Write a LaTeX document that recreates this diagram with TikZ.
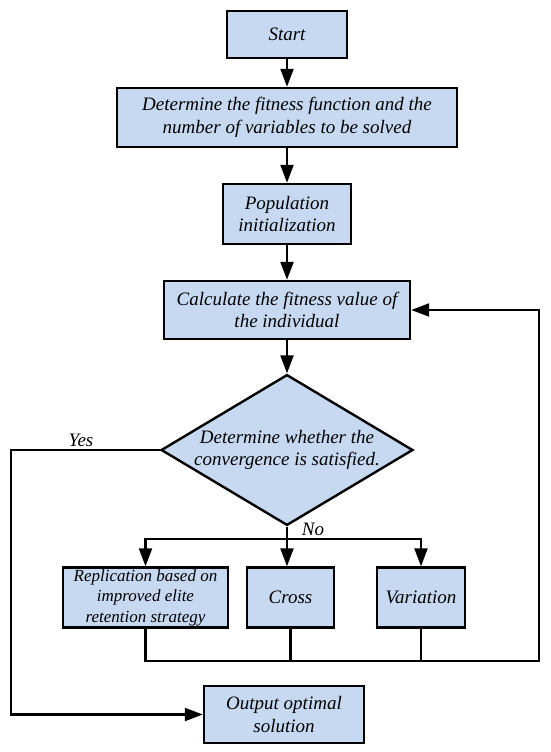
\documentclass[tikz,border=0pt]{standalone}
\usepackage{fontspec}
\setmainfont{Liberation Serif}
\usepackage{tikz}
\usetikzlibrary{positioning,arrows.meta,calc,shapes.geometric}

\begin{document}
\begin{tikzpicture}[x=1pt,y=-1pt,font=\fontsize{19}{22.5}\selectfont\itshape,align=center,
 box/.style={draw=black,line width=2.4pt,fill=stepblue,inner sep=0pt},
 decide/.style={diamond,aspect=1.67,draw=black,line width=2.4pt,fill=stepblue,inner sep=0pt},
 flow/.style={-{Triangle[length=18pt,width=13pt]},line width=2.2pt,draw=black},
 link/.style={line width=2.2pt,draw=black},
 note/.style={font=\fontsize{19}{22.5}\selectfont\itshape}]
\definecolor{stepblue}{HTML}{C6D9F1}
\useasboundingbox (0,0) rectangle (550,752);
\node[box,minimum width=120pt,minimum height=47pt] (start) at (287,34.5) {Start};
\node[box,minimum width=340pt,minimum height=59pt] (fitness) at (287,117.5)
 {Determine the fitness function and the\\number of variables to be solved};
\node[box,minimum width=128pt,minimum height=60pt] (popinit) at (287,214)
 {Population\\initialization};
\node[box,minimum width=246pt,minimum height=58pt] (calc) at (287,310)
 {Calculate the fitness value of\\the individual};
\node[decide,minimum width=251pt,minimum height=150pt] (judge) at (287,450)
 {Determine whether the\\convergence is satisfied.};
\node[box,minimum width=165pt,minimum height=60pt,font=\fontsize{17}{20.5}\selectfont\itshape] (replic) at (145.5,597.5)
 {Replication based on\\improved elite\\retention strategy};
\node[box,minimum width=87pt,minimum height=60pt] (cross) at (290.5,597.5) {Cross};
\node[box,minimum width=88pt,minimum height=60pt] (variat) at (421,597.5) {Variation};
\node[box,minimum width=160pt,minimum height=57pt] (output) at (284,714.5)
 {Output optimal\\solution};
\draw[flow] (start) -- (fitness);
\draw[flow] (fitness) -- (popinit);
\draw[flow] (popinit) -- (calc);
\draw[flow] (calc) -- (judge);
% No branch: three operators
\coordinate (split) at (287,539);
\draw[link] (judge.south) -- (split);
\draw[flow] (split) -| (replic.north);
\draw[flow] (split) -| (variat.north);
\draw[flow] (split) -- (split |- cross.north);
\node[note] (nolab) at (313,529) {No};
% loop back to fitness evaluation
\coordinate (merge) at (539,661);
\draw[flow] (replic.south) |- (merge) |- (calc.east);
\draw[link] (cross.south) -- (cross.south |- merge);
\draw[link] (variat.south) -- (variat.south |- merge);
% Yes branch
\coordinate (yesturn) at (11,450);
\draw[flow] (judge.west) -- (yesturn) |- (output.west);
\node[note] (yeslab) at (81,440) {Yes};
\end{tikzpicture}
\end{document}
